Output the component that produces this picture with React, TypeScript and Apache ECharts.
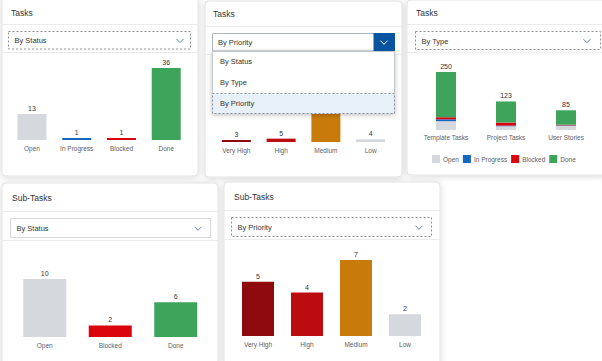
import React, { useEffect, useRef } from 'react';
import * as echarts from 'echarts';

const statusCats = ['Open', 'In Progress', 'Blocked', 'Done'];
const statusValues = [13, 1, 1, 36];
const priorityCats = ['Very High', 'High', 'Medium', 'Low'];
const priorityValues = [3, 5, 110, 4];
const typeCats = ['Template Tasks', 'Project Tasks', 'User Stories'];
const typeOpen = [38, 16, 18];
const typeInProgress = [8, 3, 2];
const typeBlocked = [9, 13, 3];
const typeDone = [195, 91, 62];
const subStatusCats = ['Open', 'Blocked', 'Done'];
const subStatusValues = [10, 2, 6];
const subPriorityCats = ['Very High', 'High', 'Medium', 'Low'];
const subPriorityValues = [5, 4, 7, 2];
const dropdownOptions = ['By Status', 'By Type', 'By Priority'];

const FONT = '"Liberation Sans", Arial, sans-serif';
const C_OPEN = '#d5d8dc';
const C_PROG = '#1467c1';
const C_BLOCK = '#d9040c';
const C_DONE = '#3fa45b';
const statusColor: Record<string, string> = { Open: C_OPEN, 'In Progress': C_PROG, Blocked: C_BLOCK, Done: C_DONE };
const priorityColor: Record<string, string> = { 'Very High': '#8f0a0f', High: '#bb0c10', Medium: '#c87b0b', Low: '#d5d8dc' };

const TXT = '#32363a';
const LBL = '#5c6166';
const TITLE_SIZE = 8.5;
const DD_SIZE = 7.5;
const LBL_SIZE = 6.5;
const VAL_SIZE = 7;

function card(x: number, y: number, w: number, h: number) {
  return {
    type: 'rect', z: 0,
    shape: { x, y, width: w, height: h, r: 4 },
    style: { fill: '#fff', stroke: '#e3e3e3', lineWidth: 1, shadowBlur: 6, shadowColor: 'rgba(0,0,0,0.16)', shadowOffsetY: 1 },
  };
}
function hline(x1: number, x2: number, y: number) {
  return { type: 'line', z: 1, shape: { x1, y1: y, x2, y2: y }, style: { stroke: '#ececec', lineWidth: 1 } };
}
function text(t: string, x: number, y: number, size: number, color: string, z = 1) {
  return { type: 'text', z, style: { text: t, x, y, fill: color, fontSize: size, fontFamily: FONT, verticalAlign: 'middle', align: 'left' } };
}
function chevron(x: number, y: number, color: string, z = 1) {
  return { type: 'polyline', z, shape: { points: [[x - 3.5, y - 1.8], [x, y + 1.8], [x + 3.5, y - 1.8]] }, style: { stroke: color, lineWidth: 1, fill: null } };
}
function dropdown(x: number, y: number, w: number, h: number, label: string, dashed: boolean, chevX: number) {
  return [
    { type: 'rect', z: 1, shape: { x, y, width: w, height: h }, style: { fill: '#fff', stroke: dashed ? '#8c9196' : '#d9d9d9', lineWidth: 1, lineDash: dashed ? [2, 2] : null } },
    text(label, x + 6, y + h / 2 + 0.5, DD_SIZE, TXT),
    chevron(chevX, y + h / 2 + 0.5, '#5b86b5'),
  ];
}

function barSeries(name: string, idx: number, cats: string[], values: number[], colors: Record<string, string>, barWidth: number) {
  return {
    type: 'bar', name, xAxisIndex: idx, yAxisIndex: idx, barWidth, z: 2,
    data: values.map((v, i) => ({ value: v, itemStyle: { color: colors[cats[i]] } })),
    label: { show: true, position: 'top', distance: 2, fontSize: VAL_SIZE, color: TXT, fontFamily: FONT },
  };
}

export default function App() {
  const ref = useRef<HTMLDivElement>(null);
  useEffect(() => {
    if (!ref.current) return;
    const chart = echarts.init(ref.current, null, { renderer: 'svg' });
    const typeTotals = typeCats.map((_, i) => typeOpen[i] + typeInProgress[i] + typeBlocked[i] + typeDone[i]);

    const grids = [
      { left: 9.6, top: 68, width: 179, height: 72 },
      { left: 214, top: 68, width: 179, height: 74 },
      { left: 416, top: 72, width: 180, height: 58 },
      { left: 12, top: 279, width: 196.5, height: 58 },
      { left: 233.5, top: 260, width: 196, height: 76 },
    ];
    const catsList = [statusCats, priorityCats, typeCats, subStatusCats, subPriorityCats];
    const xAxis = catsList.map((cats, i) => ({
      type: 'category', gridIndex: i, data: cats,
      axisLine: { show: false }, axisTick: { show: false }, splitLine: { show: false },
      axisLabel: { interval: 0, fontSize: LBL_SIZE, color: LBL, margin: i === 2 ? 4 : 5, fontFamily: FONT },
    }));
    const yAxis = catsList.map((_, i) => ({ type: 'value', gridIndex: i, min: 0, max: 'dataMax', show: false }));

    const stackLabel = { show: false };
    const series: any[] = [
      barSeries('Tasks by Status', 0, statusCats, statusValues, statusColor, 29),
      barSeries('Tasks by Priority', 1, priorityCats, priorityValues, priorityColor, 29),
      { type: 'bar', name: 'Open', stack: 'type', xAxisIndex: 2, yAxisIndex: 2, barWidth: 20, data: typeOpen, itemStyle: { color: C_OPEN }, label: stackLabel },
      { type: 'bar', name: 'In Progress', stack: 'type', xAxisIndex: 2, yAxisIndex: 2, barWidth: 20, data: typeInProgress, itemStyle: { color: C_PROG }, label: stackLabel },
      { type: 'bar', name: 'Blocked', stack: 'type', xAxisIndex: 2, yAxisIndex: 2, barWidth: 20, data: typeBlocked, itemStyle: { color: C_BLOCK }, label: stackLabel },
      {
        type: 'bar', name: 'Done', stack: 'type', xAxisIndex: 2, yAxisIndex: 2, barWidth: 20, data: typeDone, itemStyle: { color: C_DONE },
        label: { show: true, position: 'top', distance: 2, fontSize: VAL_SIZE, color: TXT, fontFamily: FONT, formatter: (p: any) => String(typeTotals[p.dataIndex]) },
      },
      barSeries('Sub-Tasks by Status', 3, subStatusCats, subStatusValues, statusColor, 43),
      barSeries('Sub-Tasks by Priority', 4, subPriorityCats, subPriorityValues, priorityColor, 32),
    ];

    const graphic: any[] = [
      card(2, -4, 196, 180),
      card(205, 1, 197, 176),
      card(407, 0, 200, 175),
      card(2, 183, 216, 185),
      card(224, 182, 216, 185),
      // headers
      text('Tasks', 11, 12.5, TITLE_SIZE, TXT),
      hline(2, 198, 24.5), hline(2, 198, 52.5),
      text('Tasks', 213, 13.5, TITLE_SIZE, TXT),
      hline(205, 402, 26.5), hline(205, 402, 54.5),
      text('Tasks', 416, 12.5, TITLE_SIZE, TXT),
      hline(407, 602, 24.5), hline(407, 602, 52.5),
      text('Sub-Tasks', 12, 197.5, TITLE_SIZE, TXT),
      hline(2, 218, 211.5), hline(2, 218, 240.5),
      text('Sub-Tasks', 234, 196.5, TITLE_SIZE, TXT),
      hline(224, 440, 210.5), hline(224, 440, 239.5),
      ...dropdown(8.5, 31.5, 182, 17.5, dropdownOptions[0], true, 180),
      ...dropdown(415.5, 31.5, 185, 18, dropdownOptions[1], true, 587),
      ...dropdown(10.5, 218.5, 200, 19, dropdownOptions[0], false, 198),
      ...dropdown(231.5, 217.5, 200, 19, dropdownOptions[2], true, 419),
      // open dropdown in card 2
      { type: 'rect', z: 10, shape: { x: 212.5, y: 33.5, width: 182, height: 17.5 }, style: { fill: '#fff', stroke: '#aeb6bf', lineWidth: 1 } },
      text(dropdownOptions[2], 218, 42.5, DD_SIZE, TXT, 11),
      { type: 'rect', z: 11, shape: { x: 373.5, y: 33, width: 21.5, height: 18 }, style: { fill: '#0854a0' } },
      chevron(384, 42.5, '#ffffff', 12),
      { type: 'rect', z: 10, shape: { x: 212.5, y: 51.5, width: 182, height: 62 }, style: { fill: '#fff', stroke: '#c3c8cc', lineWidth: 1, shadowBlur: 5, shadowColor: 'rgba(0,0,0,0.25)', shadowOffsetY: 1 } },
      { type: 'rect', z: 11, shape: { x: 212.5, y: 93.5, width: 182, height: 20 }, style: { fill: '#e8f1fa', stroke: '#8a97a5', lineWidth: 1, lineDash: [2, 2] } },
      text(dropdownOptions[0], 220, 61.5, DD_SIZE, TXT, 12),
      text(dropdownOptions[1], 220, 82.5, DD_SIZE, TXT, 12),
      text(dropdownOptions[2], 220, 103.5, DD_SIZE, TXT, 12),
    ];

    chart.setOption({
      animation: false,
      backgroundColor: '#ffffff',
      grid: grids,
      xAxis,
      yAxis,
      series,
      legend: {
        data: statusCats, left: 432, top: 155, width: 168, padding: 0, icon: 'rect', itemWidth: 8, itemHeight: 8, itemGap: 4,
        textStyle: { fontSize: LBL_SIZE, color: LBL, fontFamily: FONT, padding: [0, 0, 0, -2] }, selectedMode: false,
      },
      graphic: { elements: graphic },
    });
    return () => chart.dispose();
  }, []);
  return <div ref={ref} style={{ position: 'absolute', left: 0, top: 0, width: 602, height: 361 }} />;
}
